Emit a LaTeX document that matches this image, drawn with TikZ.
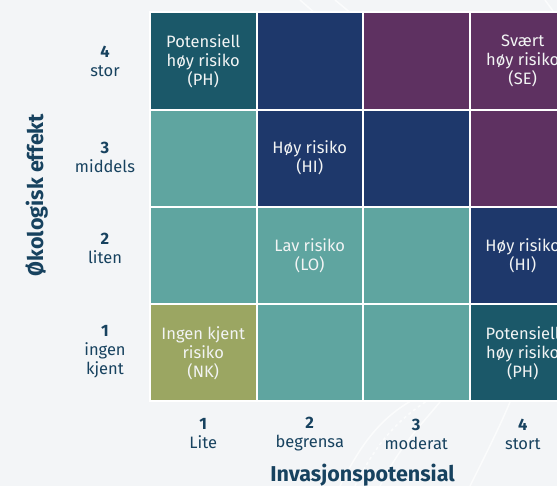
\documentclass[tikz,border=0pt]{standalone}
\usepackage{fontspec}
\setmainfont{Fira Sans}
\definecolor{bgc}{HTML}{F3F5F7}
\definecolor{phc}{HTML}{1B5869}
\definecolor{hic}{HTML}{1E386B}
\definecolor{sec}{HTML}{5E3161}
\definecolor{loc}{HTML}{5FA5A0}
\definecolor{nkc}{HTML}{9BA662}
\definecolor{lab}{HTML}{17425F}
\definecolor{cellfg}{HTML}{F2F4F4}
\begin{document}
\begin{tikzpicture}[x=1pt,y=1pt,
  cell/.style={minimum width=106.5pt, minimum height=97.3pt, draw=white, line width=2pt,
    inner sep=0pt, align=center, text=cellfg, font=\fontsize{16.5}{19}\selectfont},
  axlab/.style={align=center, text=lab, inner sep=0pt, font=\fontsize{16.5}{19}\selectfont},
  axtitle/.style={text=lab, inner sep=0pt, font=\fontsize{21.5}{24}\selectfont\bfseries}]
\useasboundingbox (0,0) rectangle (557,486);
\clip (0,0) rectangle (557,486);
\fill[bgc] (0,0) rectangle (557,486);
% faint background pattern
\begin{scope}[white, line width=1.5pt, opacity=0.7]
\draw (340,0) .. controls (360,40) and (380,70) .. (420,90);
\draw (380,0) .. controls (400,40) and (420,60) .. (440,84);
\draw (470,0) .. controls (485,30) and (500,60) .. (510,84);
\draw[dashed] (355,0) .. controls (375,40) and (395,65) .. (430,87);
\draw (300,486) -- (316,472);
\draw (335,486) -- (352,472);
\draw (545,486) -- (553,475);
\end{scope}
% cells (row 4 top)
\node[cell, fill=phc] (c14) at (203.25,425.05) {Potensiell\\høy risiko\\(PH)};
\node[cell, fill=hic] (c24) at (309.75,425.05) {};
\node[cell, fill=sec] (c34) at (416.25,425.05) {};
\node[cell, fill=sec] (c44) at (522.75,425.05) {Svært\\høy risiko\\(SE)};
\node[cell, fill=loc] (c13) at (203.25,327.75) {};
\node[cell, fill=hic] (c23) at (309.75,327.75) {Høy risiko\\(HI)};
\node[cell, fill=hic] (c33) at (416.25,327.75) {};
\node[cell, fill=sec] (c43) at (522.75,327.75) {};
\node[cell, fill=loc] (c12) at (203.25,230.45) {};
\node[cell, fill=loc] (c22) at (309.75,230.45) {Lav risiko\\(LO)};
\node[cell, fill=loc] (c32) at (416.25,230.45) {};
\node[cell, fill=hic] (c42) at (522.75,230.45) {Høy risiko\\(HI)};
\node[cell, fill=nkc] (c11) at (203.25,133.15) {Ingen kjent\\risiko\\(NK)};
\node[cell, fill=loc] (c21) at (309.75,133.15) {};
\node[cell, fill=loc] (c31) at (416.25,133.15) {};
\node[cell, fill=phc] (c41) at (522.75,133.15) {Potensiell\\høy risiko\\(PH)};
% row labels
\node[axlab] (r4) at (105,425) {\textbf{4}\\stor};
\node[axlab] (r3) at (105,329) {\textbf{3}\\middels};
\node[axlab] (r2) at (105,238) {\textbf{2}\\liten};
\node[axlab] (r1) at (105,134) {\textbf{1}\\ingen\\kjent};
% column labels
\node[axlab] (k1) at (203.25,52) {\textbf{1}\\Lite};
\node[axlab] (k2) at (309.75,52) {\textbf{2}\\begrensa};
\node[axlab] (k3) at (416.25,52) {\textbf{3}\\moderat};
\node[axlab] (k4) at (522.75,52) {\textbf{4}\\stort};
% axis titles
\node[axtitle, anchor=base] (tx) at (362.5,4) {Invasjonspotensial};
\node[axtitle, anchor=base, rotate=90] (ty) at (43,291) {Økologisk effekt};
\end{tikzpicture}
\end{document}
